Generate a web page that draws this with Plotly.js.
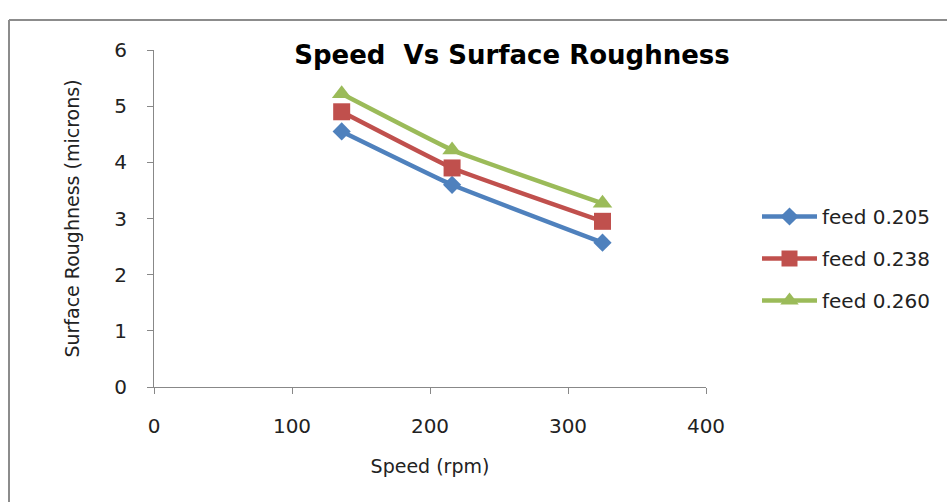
<!DOCTYPE html>
<html><head><meta charset="utf-8">
<script src="https://cdn.plot.ly/plotly-3.0.1.min.js"></script>
<style>html,body{margin:0;padding:0;background:#fff;}#chart{width:947px;height:502px;}</style>
</head><body><div id="chart"></div>
<script>
const speed = [136, 216, 325];
const feed205 = [4.55, 3.6, 2.57];
const feed238 = [4.9, 3.9, 2.95];
const feed260 = [5.22, 4.22, 3.27];
const seriesNames = ['feed 0.205', 'feed 0.238', 'feed 0.260'];
const colors = ['#4F81BD', '#C0504D', '#9BBB59'];
const symbols = ['diamond', 'square', 'triangle-up'];
const sizes = [14, 17, 17];
const seriesData = [feed205, feed238, feed260];

const FONT = '"DejaVu Sans", "Open Sans", sans-serif';
const FS = 20;
const traces = seriesData.map((ys, i) => ({
  x: speed, y: ys, name: seriesNames[i], type: 'scatter', mode: 'lines+markers',
  legendgroup: 'g' + i,
  line: {color: colors[i], width: 4.5, shape: 'spline', smoothing: 0.3},
  marker: {symbol: symbols[i], size: sizes[i], color: colors[i]}
}));

const layout = {
  width: 947, height: 502,
  margin: {l: 154, r: 241, t: 50, b: 115},
  paper_bgcolor: '#fff', plot_bgcolor: '#fff',
  font: {family: FONT, size: FS, color: '#222'},
  title: {text: '<b>Speed  Vs Surface Roughness</b>', font: {family: FONT, size: 26, color: '#000'},
    x: 512/947, xanchor: 'center', y: 1 - 55/502, yanchor: 'middle'},
  xaxis: {range: [0, 400], dtick: 100, showgrid: false, zeroline: false,
    showline: true, linecolor: '#888', linewidth: 1, ticks: 'outside', ticklen: 6, tickcolor: '#888',
    ticklabelstandoff: 15, tickfont: {family: FONT, size: FS, color: '#222'},
    title: {text: 'Speed (rpm)', font: {family: FONT, size: 19, color: '#222'}, standoff: 22}},
  yaxis: {range: [0, 6], dtick: 1, showgrid: false, zeroline: false,
    showline: true, linecolor: '#888', linewidth: 1, ticks: 'outside', ticklen: 6, tickcolor: '#888',
    ticklabelstandoff: 16, tickfont: {family: FONT, size: FS, color: '#222'},
    title: {text: 'Surface Roughness (microns)', font: {family: FONT, size: 19, color: '#222'}, standoff: 29}},
  legend: {x: 757/947, xref: 'container', y: 1 - 197/502, yref: 'container', xanchor: 'left', yanchor: 'top',
    font: {family: FONT, size: FS, color: '#222'}, tracegroupgap: 13, itemwidth: 55, bgcolor: 'rgba(0,0,0,0)'},
  shapes: [
    {type: 'line', xref: 'paper', yref: 'paper', x0: (9-154)/552, x1: (9-154)/552, y0: (387-20)/337, y1: (387-520)/337, line: {color: '#8c8c8c', width: 2}},
    {type: 'line', xref: 'paper', yref: 'paper', x0: (9-154)/552, x1: (960-154)/552, y0: (387-20)/337, y1: (387-20)/337, line: {color: '#8c8c8c', width: 2}}
  ],
  showlegend: true
};
Plotly.newPlot('chart', traces, layout, {displayModeBar: false, staticPlot: true});
</script></body></html>
